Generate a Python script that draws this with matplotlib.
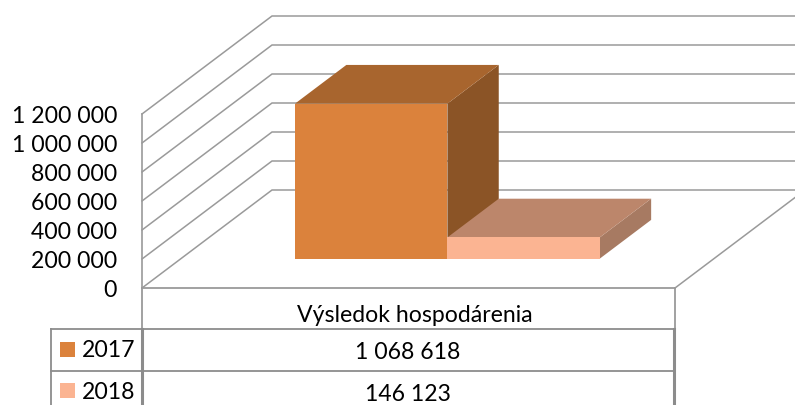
import matplotlib
matplotlib.use("Agg")
import matplotlib.pyplot as plt
from matplotlib.patches import Polygon

series_names = ["2017", "2018"]
series_values = [1068618, 146123]
series_labels = ["1 068 618", "146 123"]
category = "Výsledok hospodárenia"
axis_values = [0, 200000, 400000, 600000, 800000, 1000000, 1200000]
axis_labels = ["0", "200 000", "400 000", "600 000", "800 000", "1 000 000", "1 200 000"]

front_colors = ["#DB823C", "#FBB492"]
top_colors = ["#A8652E", "#BC866B"]
side_colors = ["#8B5426", "#A77A62"]

plt.rcParams["font.family"] = ["Lato", "DejaVu Sans"]
GRID = "#9a9a9a"
TABLE = "#8c8c8c"
FS = 16.6

fig = plt.figure(figsize=(7.95, 4.05), dpi=100)
ax = fig.add_axes([0, 0, 1, 1])
ax.set_xlim(0, 795)
ax.set_ylim(405, 0)
ax.axis("off")

# oblique projection of the 3d box, everything in pixels of the figure
X0, X1 = 142, 675
Y0 = 288
PX_PER_VALUE = 29 / 200000
DEPTH_X, DEPTH_Y = 130, 98


def proj(x, value, depth=0.0):
    return x + DEPTH_X * depth, Y0 - value * PX_PER_VALUE - DEPTH_Y * depth


# walls
for v in axis_values:
    a = proj(X0, v)
    b = proj(X0, v, 1)
    c = (795, b[1])
    ax.plot([a[0], b[0], c[0]], [a[1], b[1], c[1]], color=GRID, lw=1.1, solid_joinstyle="miter")
ax.plot(*zip(proj(X0, 0), proj(X0, axis_values[-1])), color=GRID, lw=1.2)
ax.plot(*zip(proj(X1, 0), (795, Y0 - 120 * DEPTH_Y / DEPTH_X)), color=GRID, lw=1.1)
ax.plot([X0, X1], [Y0, Y0], color=GRID, lw=1.3)

for v, lab in zip(axis_values, axis_labels):
    ax.text(117, proj(X0, v)[1] + 2.5, lab, ha="right", va="center", fontsize=FS, color="black")

# bars
BAR_W = 152.4
BAR_X0 = 256
D0, D1 = 0.30, 0.695
for i, v in enumerate(series_values):
    x = BAR_X0 + i * BAR_W
    top = [proj(x, v, D0), proj(x + BAR_W, v, D0), proj(x + BAR_W, v, D1), proj(x, v, D1)]
    side = [proj(x + BAR_W, 0, D0), proj(x + BAR_W, v, D0), proj(x + BAR_W, v, D1), proj(x + BAR_W, 0, D1)]
    front = [proj(x, 0, D0), proj(x + BAR_W, 0, D0), proj(x + BAR_W, v, D0), proj(x, v, D0)]
    ax.add_patch(Polygon(side, closed=True, fc=side_colors[i], ec="none", zorder=3 + i))
    ax.add_patch(Polygon(top, closed=True, fc=top_colors[i], ec="none", zorder=3 + i))
    ax.add_patch(Polygon(front, closed=True, fc=front_colors[i], ec="none", zorder=3 + i))

# data table
T_TOP = 329
ROW_H = 41.5
ax.plot([X0, X0], [Y0, T_TOP], color=GRID, lw=1.3)
ax.plot([X1, X1], [Y0, T_TOP], color=GRID, lw=1.3)
ax.text((X0 + X1) / 2 + 6, 315.5, category, ha="center", va="center", fontsize=FS, color="black")
for i, name in enumerate(series_names):
    y = T_TOP + ROW_H * i
    ax.plot([51, X1], [y, y], color=TABLE, lw=1.3)
    ymid = y + ROW_H / 2
    ax.add_patch(Polygon([(60, ymid - 8), (75, ymid - 8), (75, ymid + 7), (60, ymid + 7)],
                         closed=True, fc=front_colors[i], ec="none"))
    ax.text(82, ymid + 1, name, ha="left", va="center", fontsize=FS, color="black")
    ax.text(408, ymid + 3, series_labels[i], ha="center", va="center", fontsize=FS, color="black")
y = T_TOP + ROW_H * len(series_names)
ax.plot([51, X1], [y, y], color=TABLE, lw=1.3)
ax.plot([51, 51], [T_TOP, 405], color=TABLE, lw=1.3)
ax.plot([X0, X0], [T_TOP, 405], color=TABLE, lw=2.2)
ax.plot([X1 - 1, X1 - 1], [T_TOP, 405], color=TABLE, lw=2.2)

fig.savefig("out.png", dpi=100)
